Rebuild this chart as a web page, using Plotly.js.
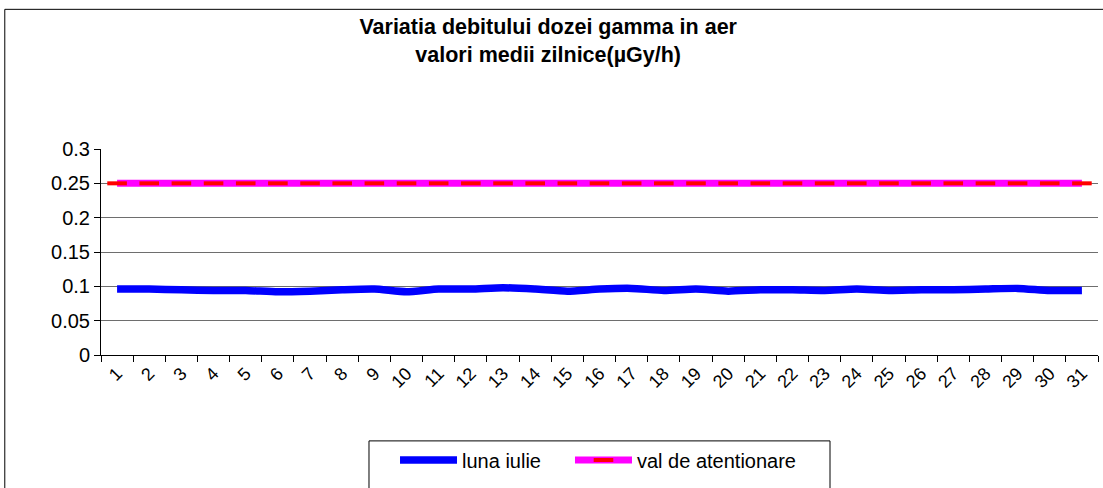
<!DOCTYPE html>
<html>
<head>
<meta charset="utf-8">
<script src="https://cdn.plot.ly/plotly-3.0.1.min.js"></script>
<style>
  html, body { margin: 0; padding: 0; background: #fff; }
  #chart { width: 1103px; height: 488px; }
</style>
</head>
<body>
<div id="chart"></div>
<script>
// Data
const days = ["1","2","3","4","5","6","7","8","9","10","11","12","13","14","15","16","17","18","19","20","21","22","23","24","25","26","27","28","29","30","31"];
const lunaIulie = [0.096,0.096,0.095,0.094,0.094,0.092,0.093,0.095,0.096,0.092,0.096,0.096,0.098,0.096,0.093,0.096,0.097,0.094,0.096,0.093,0.095,0.095,0.094,0.096,0.094,0.095,0.095,0.096,0.097,0.094,0.094];
const valAtentionare = [0.25,0.25,0.25,0.25,0.25,0.25,0.25,0.25,0.25,0.25,0.25,0.25,0.25,0.25,0.25,0.25,0.25,0.25,0.25,0.25,0.25,0.25,0.25,0.25,0.25,0.25,0.25,0.25,0.25,0.25,0.25];
const seriesNames = ["luna iulie", "val de atentionare"];
const chartTitle = "Variatia debitului dozei gamma in aer<br>valori medii zilnice(µGy/h)";
const yTicks = [0, 0.05, 0.1, 0.15, 0.2, 0.25, 0.3];
const yTickText = ["0", "0.05", "0.1", "0.15", "0.2", "0.25", "0.3"];

const FONT = "Arial, 'Liberation Sans', sans-serif";

const traces = [
  {
    x: days, y: lunaIulie, name: seriesNames[0], type: "scatter", mode: "lines",
    line: { color: "#0000FF", width: 7.5, shape: "spline", smoothing: 0.6 },
    hoverinfo: "skip", legend: "legend"
  },
  {
    x: days, y: valAtentionare, name: seriesNames[1], type: "scatter", mode: "lines+markers",
    line: { color: "#FF00FF", width: 7 },
    marker: { symbol: "line-ew", size: 14, color: "#FF0000", line: { color: "#FF0000", width: 4 } },
    hoverinfo: "skip", legend: "legend2"
  }
];

const legendBase = {
  orientation: "h", xanchor: "left", y: -0.415, yanchor: "top",
  borderwidth: 0, bgcolor: "rgba(0,0,0,0)",
  font: { family: FONT, size: 20, color: "#000" },
  itemwidth: 57
};

const layout = {
  width: 1103, height: 488,
  margin: { l: 101, r: 5, t: 149, b: 133 },
  paper_bgcolor: "#ffffff", plot_bgcolor: "#ffffff",
  font: { family: FONT, size: 19, color: "#000" },
  title: {
    text: chartTitle,
    font: { family: FONT, size: 21.5, weight: "bold", color: "#000" },
    x: 0.497, xanchor: "center", y: 0.93, yanchor: "middle"
  },
  showlegend: true,
  legend: Object.assign({}, legendBase, { x: 0.2949 }),
  legend2: Object.assign({}, legendBase, { x: 0.4704 }),
  xaxis: {
    type: "category", tickmode: "array", tickvals: days, ticktext: days,
    range: [-0.5, 30.5],
    tickangle: -45, tickson: "boundaries", ticks: "outside", ticklen: 6, tickcolor: "#000",
    showline: true, linecolor: "#000", linewidth: 1, showgrid: false, zeroline: false,
    tickfont: { family: FONT, size: 18, color: "#000" }, fixedrange: true
  },
  yaxis: {
    range: [0, 0.3], tickmode: "array", tickvals: yTicks, ticktext: yTickText,
    ticks: "outside", ticklen: 6, tickcolor: "#000",
    showline: true, linecolor: "#000", linewidth: 1,
    showgrid: true, gridcolor: "#6e6e6e", gridwidth: 1, zeroline: false,
    tickfont: { family: FONT, size: 20, color: "#000" }, fixedrange: true
  },
  shapes: [
    { type: "rect", xref: "paper", yref: "paper", x0: -0.0965, x1: 1.02, y0: -0.68, y1: 1.678,
      line: { color: "#000", width: 1 }, fillcolor: "rgba(0,0,0,0)", layer: "below" },
    { type: "rect", xref: "paper", yref: "paper", x0: 0.2688, x1: 0.7312, y0: -0.68, y1: -0.417,
      line: { color: "#000", width: 1 }, fillcolor: "rgba(0,0,0,0)", layer: "below" }
  ]
};

Plotly.newPlot("chart", traces, layout, { displayModeBar: false, staticPlot: true });
</script>
</body>
</html>
